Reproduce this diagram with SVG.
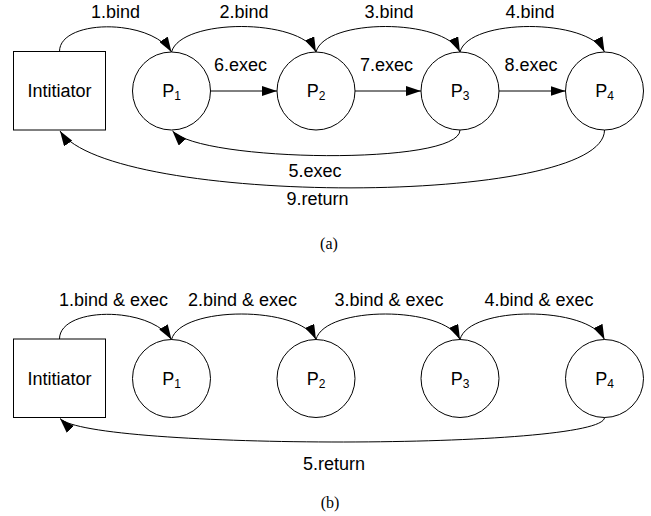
<svg xmlns="http://www.w3.org/2000/svg" width="651" height="516" viewBox="0 0 651 516">
<style>
.box{fill:#fff;stroke:#000;stroke-width:1}
.lbl{font-family:"Liberation Sans",Arial,sans-serif;font-size:18px;fill:#000;text-anchor:middle}
.sub{font-size:12px}
.cap{font-family:"Liberation Serif","Times New Roman",serif;font-size:16px;fill:#000;text-anchor:middle}
.edge{fill:none;stroke:#000;stroke-width:1;marker-end:url(#ah)}
</style>
<defs>
<marker id="ah" markerUnits="userSpaceOnUse" viewBox="0 0 15 10" refX="15" refY="5" markerWidth="15" markerHeight="10" orient="auto">
<path d="M0,0 L15,5 L0,10 z" fill="#000"/>
</marker>
</defs>
<rect width="651" height="516" fill="#fff"/>

<!-- (a) -->
<g id="a-initiator"><rect class="box" x="13.5" y="51.5" width="92" height="78.5"/><text class="lbl" x="59.5" y="97">Intitiator</text></g>
<g id="a-p1"><circle class="box" cx="171.5" cy="91" r="39"/><text class="lbl" x="171.5" y="97">P<tspan class="sub" dy="3">1</tspan></text></g>
<g id="a-p2"><circle class="box" cx="316" cy="91" r="39"/><text class="lbl" x="316" y="97">P<tspan class="sub" dy="3">2</tspan></text></g>
<g id="a-p3"><circle class="box" cx="460" cy="91" r="39"/><text class="lbl" x="460" y="97">P<tspan class="sub" dy="3">3</tspan></text></g>
<g id="a-p4"><circle class="box" cx="604.5" cy="91" r="39"/><text class="lbl" x="604.5" y="97">P<tspan class="sub" dy="3">4</tspan></text></g>

<g id="a-connectors">
<path class="edge" d="M59.5,51.5 C59.5,19 150,18 171.5,52"/>
<path class="edge" d="M171.5,52 C181,18 300,18 316,52"/>
<path class="edge" d="M316,52 C325,18 444,18 460,52"/>
<path class="edge" d="M460,52 C469,18 588,18 604.5,52"/>
<path class="edge" d="M210.5,91 L277,91"/>
<path class="edge" d="M355,91 L421,91"/>
<path class="edge" d="M499,91 L565.5,91"/>
<path class="edge" d="M460,130 C460,166 200,162 172.5,131"/>
<path class="edge" d="M604.5,130 C604.5,207 110,207 60,131"/>
<text class="lbl" x="115.5" y="18">1.bind</text>
<text class="lbl" x="244" y="18">2.bind</text>
<text class="lbl" x="389" y="18">3.bind</text>
<text class="lbl" x="530" y="18">4.bind</text>
<text class="lbl" x="240.5" y="71">6.exec</text>
<text class="lbl" x="386.5" y="71">7.exec</text>
<text class="lbl" x="531" y="71">8.exec</text>
<text class="lbl" x="315" y="177">5.exec</text>
<text class="lbl" x="317.5" y="205">9.return</text>
</g>
<text class="cap" x="329" y="248.5">(a)</text>

<!-- (b) -->
<g id="b-initiator"><rect class="box" x="13.5" y="339" width="92" height="78.5"/><text class="lbl" x="59.5" y="384.5">Intitiator</text></g>
<g id="b-p1"><circle class="box" cx="171.5" cy="378.5" r="39"/><text class="lbl" x="171.5" y="384.5">P<tspan class="sub" dy="3">1</tspan></text></g>
<g id="b-p2"><circle class="box" cx="316" cy="378.5" r="39"/><text class="lbl" x="316" y="384.5">P<tspan class="sub" dy="3">2</tspan></text></g>
<g id="b-p3"><circle class="box" cx="460" cy="378.5" r="39"/><text class="lbl" x="460" y="384.5">P<tspan class="sub" dy="3">3</tspan></text></g>
<g id="b-p4"><circle class="box" cx="604.5" cy="378.5" r="39"/><text class="lbl" x="604.5" y="384.5">P<tspan class="sub" dy="3">4</tspan></text></g>

<g id="b-connectors">
<path class="edge" d="M59.5,339 C59.5,306.5 150,305.5 171.5,339.5"/>
<path class="edge" d="M171.5,339.5 C181,305.5 300,305.5 316,339.5"/>
<path class="edge" d="M316,339.5 C325,305.5 444,305.5 460,339.5"/>
<path class="edge" d="M460,339.5 C469,305.5 588,305.5 604.5,339.5"/>
<path class="edge" d="M604.5,417.5 C604.5,450 90,450 60,418.5"/>
<text class="lbl" x="113.5" y="305.5">1.bind &amp; exec</text>
<text class="lbl" x="242.5" y="305.5">2.bind &amp; exec</text>
<text class="lbl" x="389" y="305.5">3.bind &amp; exec</text>
<text class="lbl" x="539" y="305.5">4.bind &amp; exec</text>
<text class="lbl" x="334" y="470">5.return</text>
</g>
<text class="cap" x="330" y="508">(b)</text>
</svg>
